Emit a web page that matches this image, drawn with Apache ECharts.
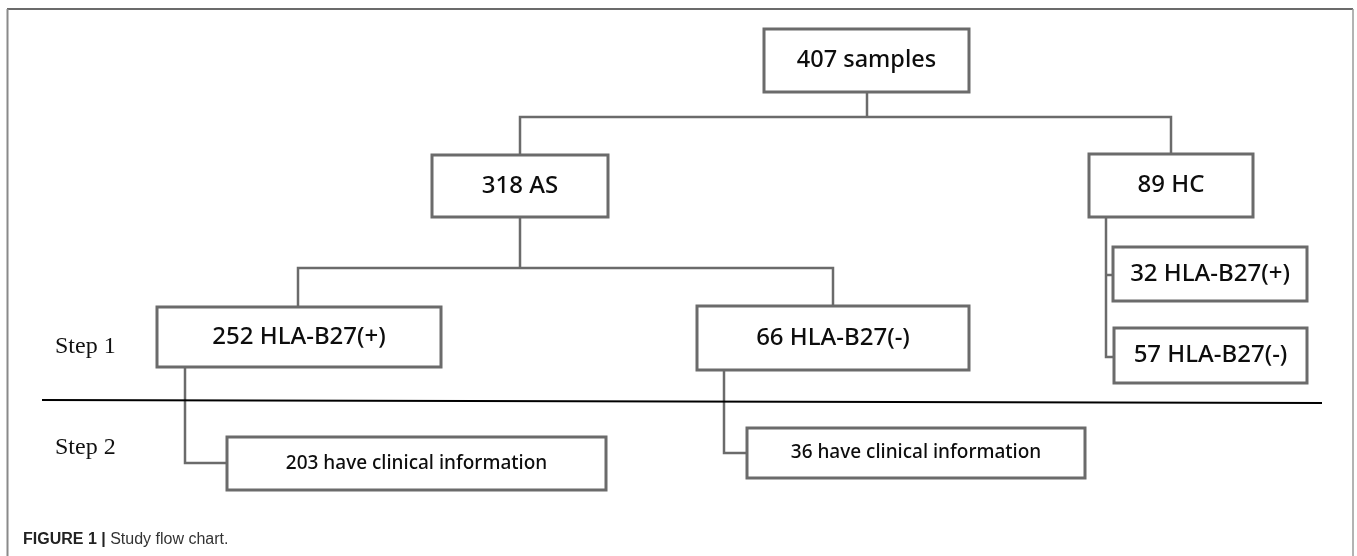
<!DOCTYPE html>
<html>
<head>
<meta charset="utf-8">
<script src="https://cdn.jsdelivr.net/npm/echarts@6/dist/echarts.min.js"></script>
<style>
html,body{margin:0;padding:0;background:#fff;}
#chart{width:1357px;height:556px;}
</style>
</head>
<body>
<div id="chart"></div>
<script>
// ---- data ----
const nodeLabels = [
  '407 samples', '318 AS', '89 HC',
  '252 HLA-B27(+)', '66 HLA-B27(-)',
  '32 HLA-B27(+)', '57 HLA-B27(-)',
  '203 have clinical information', '36 have clinical information'
];
// box corners in chart units [x1, y1, x2, y2]
const nodeBoxes = [
  [764, 29, 969, 92],
  [432, 155, 608, 217],
  [1089, 154, 1253, 217],
  [157, 307, 441, 367],
  [697, 306, 969, 370],
  [1113, 247, 1307, 301],
  [1114, 328, 1307, 383],
  [227, 437, 606, 490],
  [747, 428, 1085, 478]
];
const nodeFontSizes = [23.5, 24, 24, 24, 24, 24, 24, 19, 19];
const connectors = [
  [[867, 92], [867, 117]],
  [[520, 155], [520, 117], [1171, 117], [1171, 154]],
  [[520, 217], [520, 268]],
  [[298, 307], [298, 268], [833, 268], [833, 306]],
  [[185, 367], [185, 463], [227, 463]],
  [[724, 370], [724, 453], [747, 453]],
  [[1106, 217], [1106, 357], [1114, 357]],
  [[1106, 275], [1113, 275]]
];
const separator = [[42, 400], [1322, 403]];
const stepLabels = ['Step 1', 'Step 2'];
const stepPositions = [[55, 347], [55, 448]];

// ---- chart ----
const chart = echarts.init(document.getElementById('chart'), null, {renderer: 'canvas'});
const boxColor = '#6b6b6b';
const textFont = '"Noto Sans", "Open Sans", sans-serif';

const option = {
  animation: false,
  backgroundColor: '#ffffff',
  grid: {left: 0, right: 0, top: 0, bottom: 0},
  xAxis: {type: 'value', min: 0, max: 1357, show: false},
  yAxis: {type: 'value', min: 0, max: 556, inverse: true, show: false},
  graphic: [
    {type: 'line', shape: {x1: 7, y1: 9, x2: 1353, y2: 9}, style: {stroke: '#3a3a3a', lineWidth: 1.5}, silent: true},
    {type: 'line', shape: {x1: 7.5, y1: 9, x2: 7.5, y2: 556}, style: {stroke: '#8a8a8a', lineWidth: 2}, silent: true},
    {type: 'line', shape: {x1: 1353, y1: 9, x2: 1353, y2: 556}, style: {stroke: '#9a9a9a', lineWidth: 1.5}, silent: true},
    {
      type: 'text', left: 23, top: 532, silent: true,
      style: {
        text: '{b|FIGURE 1 |} Study flow chart.',
        font: '16px "Liberation Sans", Arial, sans-serif',
        fill: '#333',
        rich: {
          b: {fontWeight: 'bold', fontSize: 16, fontFamily: '"Liberation Sans", Arial, sans-serif', fill: '#222'}
        }
      }
    }
  ],
  series: [
    {
      type: 'lines',
      coordinateSystem: 'cartesian2d',
      polyline: true,
      z: 1,
      silent: true,
      lineStyle: {color: boxColor, width: 2.5, opacity: 1},
      data: connectors.map(c => ({coords: c}))
    },
    {
      type: 'lines',
      coordinateSystem: 'cartesian2d',
      polyline: true,
      z: 1,
      silent: true,
      lineStyle: {color: '#000', width: 2, opacity: 1},
      data: [{coords: separator}]
    },
    {
      type: 'custom',
      coordinateSystem: 'cartesian2d',
      z: 3,
      silent: true,
      data: nodeLabels.map((l, i) => [i]),
      renderItem: function (params, api) {
        const i = api.value(0);
        const b = nodeBoxes[i];
        const p1 = api.coord([b[0], b[1]]);
        const p2 = api.coord([b[2], b[3]]);
        return {
          type: 'group',
          children: [
            {
              type: 'rect',
              shape: {x: p1[0], y: p1[1], width: p2[0] - p1[0], height: p2[1] - p1[1]},
              style: {fill: '#fff', stroke: boxColor, lineWidth: 3}
            },
            {
              type: 'text',
              style: {
                x: (p1[0] + p2[0]) / 2,
                y: (p1[1] + p2[1]) / 2,
                text: nodeLabels[i],
                align: 'center',
                verticalAlign: 'middle',
                fontSize: nodeFontSizes[i],
                fontWeight: 500,
                fontFamily: textFont,
                fill: '#0d0d0d'
              }
            }
          ]
        };
      }
    },
    {
      type: 'custom',
      coordinateSystem: 'cartesian2d',
      z: 3,
      silent: true,
      data: stepLabels.map((l, i) => [i]),
      renderItem: function (params, api) {
        const i = api.value(0);
        const p = api.coord(stepPositions[i]);
        return {
          type: 'text',
          style: {
            x: p[0], y: p[1],
            text: stepLabels[i],
            align: 'left',
            verticalAlign: 'middle',
            fontSize: 24,
            fontFamily: '"Liberation Serif", "Times New Roman", serif',
            fill: '#111'
          }
        };
      }
    }
  ]
};
chart.setOption(option);
</script>
</body>
</html>
